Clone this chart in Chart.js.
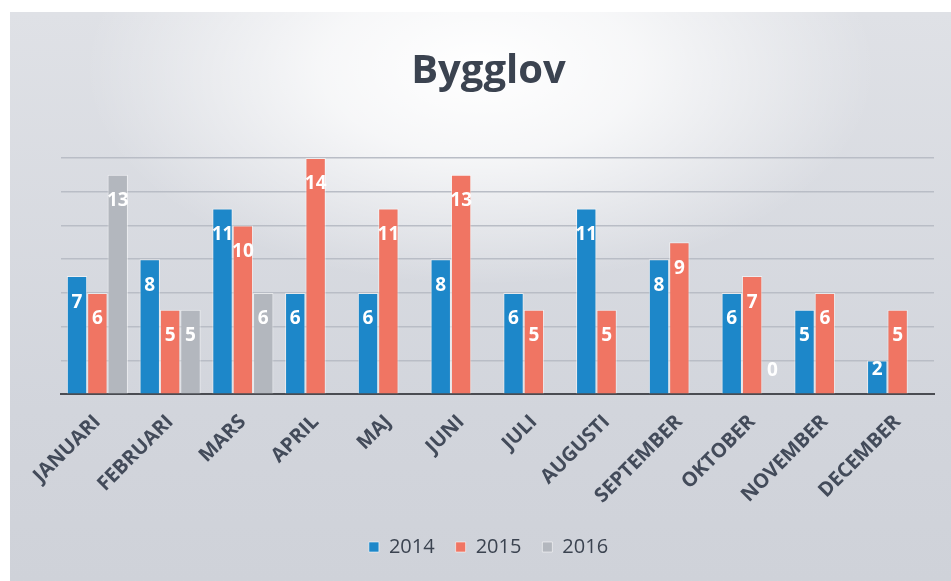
<!DOCTYPE html>
<html>
<head>
<meta charset="utf-8">
<script src="https://cdn.jsdelivr.net/npm/chart.js@4.4.1/dist/chart.umd.min.js"></script>
<style>
  html, body { margin: 0; padding: 0; background: #ffffff; }
  #ram {
    position: absolute; left: 10px; top: 12px; width: 941px; height: 569px;
    background:
      radial-gradient(ellipse 42% 38% at 50% 10%, rgba(255,255,255,1) 0%, rgba(255,255,255,0.75) 40%, rgba(255,255,255,0) 100%),
      linear-gradient(#dfe1e6, #d2d5dc 70%, #cfd2d9);
  }
</style>
</head>
<body>
<div id="ram"><canvas id="bygglov"></canvas></div>
<script>
//---------------------------------------------------------------------
// DATA
//---------------------------------------------------------------------
const manader = ["JANUARI", "FEBRUARI", "MARS", "APRIL", "MAJ", "JUNI",
                 "JULI", "AUGUSTI", "SEPTEMBER", "OKTOBER", "NOVEMBER", "DECEMBER"];
const ar2014 = [7, 8, 11, 6, 6, 8, 6, 11, 8, 6, 5, 2];
const ar2015 = [6, 5, 10, 14, 11, 13, 5, 5, 9, 7, 6, 5];
const ar2016 = [13, 5, 6, null, null, null, null, null, null, 0, null, null];
const yTicks = [0, 2, 4, 6, 8, 10, 12, 14];

//---------------------------------------------------------------------
// ETIKETTER I STAPLARNA
//---------------------------------------------------------------------
const etiketter = {
    id: 'etiketter',
    afterDatasetsDraw(chart) {
        const ctx = chart.ctx;
        ctx.save();
        ctx.font = "bold 19px 'Open Sans'";
        ctx.fillStyle = '#ffffff';
        ctx.textAlign = 'center';
        ctx.textBaseline = 'middle';
        chart.data.datasets.forEach((ds, i) => {
            const meta = chart.getDatasetMeta(i);
            meta.data.forEach((bar, j) => {
                const v = ds.data[j];
                if (v === null || v === undefined) return;
                const y = Math.min(bar.y + 26, bar.base - 24);
                ctx.fillText(String(v), bar.x, y);
            });
        });
        ctx.restore();
    }
};

const serie = (label, data, color) => ({
    label: label,
    data: data,
    backgroundColor: color,
    borderColor: 'rgba(255,255,255,0.55)',
    borderWidth: 1,
    categoryPercentage: 0.84,
    barPercentage: 1.0
});

new Chart(document.getElementById('bygglov'), {
    type: 'bar',
    data: {
        labels: manader,
        datasets: [
            serie('2014', ar2014, '#1d87c9'),
            serie('2015', ar2015, '#f07563'),
            serie('2016', ar2016, '#b3b7be')
        ]
    },
    options: {
        responsive: true,
        maintainAspectRatio: false,
        animation: false,
        layout: { padding: { left: 33, right: 17, top: 36, bottom: 14 } },
        plugins: {
            title: {
                display: true,
                text: 'Bygglov',
                color: '#3b4350',
                font: { family: "'Open Sans'", size: 40, weight: 'bold' },
                padding: { top: 0, bottom: 62 }
            },
            legend: {
                position: 'bottom',
                labels: {
                    color: '#3b4350',
                    font: { family: "'Open Sans'", size: 20 },
                    boxWidth: 10,
                    boxHeight: 10,
                    padding: 21
                }
            },
            tooltip: { enabled: false }
        },
        scales: {
            x: {
                grid: { display: false },
                border: { display: true, color: '#4a4c52', width: 2 },
                ticks: {
                    color: '#434b5a',
                    font: { family: "'Open Sans'", size: 20, weight: 'bold' },
                    minRotation: 45,
                    maxRotation: 45,
                    padding: 8
                }
            },
            y: {
                min: 0,
                max: 14,
                afterBuildTicks: (axis) => { axis.ticks = yTicks.map(v => ({ value: v })); },
                afterFit: (axis) => { axis.width = 18; },
                ticks: { display: false },
                grid: { color: '#b9bdc6', lineWidth: 1.5, drawTicks: false },
                border: { display: false }
            }
        }
    },
    plugins: [etiketter]
});
</script>
</body>
</html>
